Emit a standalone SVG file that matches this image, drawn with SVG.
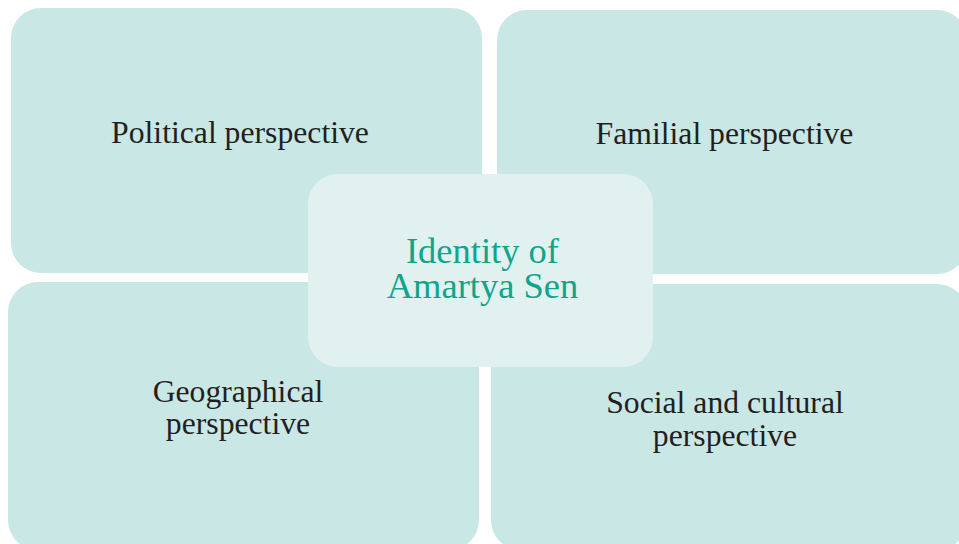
<svg xmlns="http://www.w3.org/2000/svg" width="959" height="544" viewBox="0 0 959 544">
<style>
.box{fill:#c9e7e5}
.ctr{fill:#e1f1f0}
.lbl{font-family:"Liberation Serif","Times New Roman",serif;font-size:31.7px;fill:#231f20;text-anchor:middle}
.ctl{font-family:"Liberation Serif","Times New Roman",serif;font-size:36.5px;fill:#10a58b;text-anchor:middle}
</style>
<rect width="959" height="544" fill="#ffffff"/>
<g id="connectors"></g>
<g id="political">
<rect class="box" x="11" y="8" width="471" height="265" rx="30"/>
<text class="lbl" x="240" y="143">Political perspective</text>
</g>
<g id="familial">
<rect class="box" x="497" y="10" width="470" height="264" rx="30"/>
<text class="lbl" x="724.5" y="144">Familial perspective</text>
</g>
<g id="geographical">
<rect class="box" x="8" y="282" width="471" height="268" rx="30"/>
<text class="lbl" x="238" y="402">Geographical</text>
<text class="lbl" x="238" y="433.5">perspective</text>
</g>
<g id="social">
<rect class="box" x="491" y="284" width="476" height="266" rx="30"/>
<text class="lbl" x="725" y="413">Social and cultural</text>
<text class="lbl" x="725" y="445.5">perspective</text>
</g>
<g id="identity">
<rect class="ctr" x="308" y="174" width="345" height="193" rx="30"/>
<text class="ctl" x="482.5" y="263">Identity of<tspan x="482.5" dy="35">Amartya Sen</tspan></text>
</g>
</svg>
